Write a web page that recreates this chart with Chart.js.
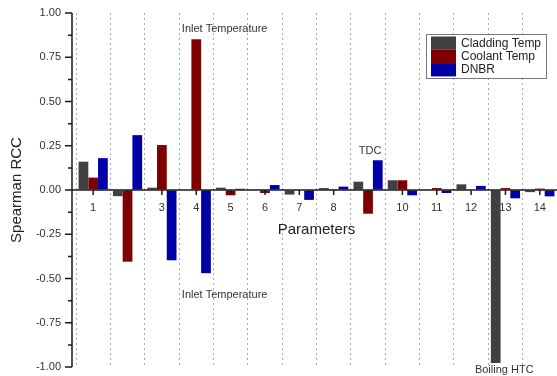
<!DOCTYPE html>
<html>
<head>
<meta charset="utf-8">
<script src="https://cdn.jsdelivr.net/npm/chart.js@4.4.1/dist/chart.umd.min.js"></script>
<style>
  html, body { margin: 0; padding: 0; background: #fff; }
  #wrap { width: 557px; height: 376px; }
</style>
</head>
<body>
<div id="wrap"><canvas id="grafico"></canvas></div>
<script>
const parametros = ["1", "2", "3", "4", "5", "6", "7", "8", "9", "10", "11", "12", "13", "14"];
const claddingTemp = [0.160, -0.035, 0.013, 0.003, 0.013, 0.002, -0.026, 0.011, 0.047, 0.055, 0.003, 0.032, -0.977, -0.012];
const coolantTemp = [0.070, -0.405, 0.254, 0.851, -0.030, -0.017, -0.003, 0.002, -0.134, 0.055, 0.011, 0.003, 0.011, 0.008];
const dnbr = [0.180, 0.310, -0.397, -0.470, 0.007, 0.028, -0.056, 0.019, 0.168, -0.030, -0.017, 0.023, -0.047, -0.036];
const nomesSeries = ["Cladding Temp", "Coolant Temp", "DNBR"];
const coresSeries = ["#404040", "#800000", "#0000a8"];

// textos soltos no grafico (x em indice de categoria, y em valor)
const anotacoes = [
    { texto: "Inlet Temperature", x: 3 - 0.42, y: 0.91 },
    { texto: "Inlet Temperature", x: 3 - 0.42, y: -0.593 },
    { texto: "TDC", x: 8 - 0.27, y: 0.22 },
    { texto: "Boiling HTC", x: 12 - 0.89, y: -1.017 }
];

const fonte = "'Liberation Sans', Arial, sans-serif";

// eixos desenhados a mao (linha do eixo y fica 4px a esquerda da area)
const eixosPlugin = {
    id: "eixos",
    afterDatasetsDraw(chart) {
        const ctx = chart.ctx;
        const area = chart.chartArea;
        const xs = chart.scales.x;
        const ys = chart.scales.y;
        const x0 = area.left - 4;
        const y0 = ys.getPixelForValue(0);
        ctx.save();
        ctx.strokeStyle = "#1a1a1a";
        ctx.lineWidth = 1.5;
        ctx.beginPath();
        ctx.moveTo(x0, area.top);
        ctx.lineTo(x0, area.bottom);
        ctx.moveTo(x0, y0);
        ctx.lineTo(area.right, y0);
        ys.ticks.forEach(function(t, i) {
            const py = ys.getPixelForValue(t.value);
            ctx.moveTo(x0 - 7, py);
            ctx.lineTo(x0, py);
            if (i < ys.ticks.length - 1) {
                const pm = ys.getPixelForValue((t.value + ys.ticks[i + 1].value) / 2);
                ctx.moveTo(x0 - 4, pm);
                ctx.lineTo(x0, pm);
            }
        });
        parametros.forEach(function(p, i) {
            const px = xs.getPixelForValue(i);
            ctx.moveTo(px, y0);
            ctx.lineTo(px, y0 + 5);
        });
        ctx.stroke();
        ctx.restore();
    }
};

const textosPlugin = {
    id: "textos",
    afterDraw(chart) {
        const ctx = chart.ctx;
        const xs = chart.scales.x;
        const ys = chart.scales.y;
        ctx.save();
        ctx.font = "11px " + fonte;
        ctx.fillStyle = "#333";
        ctx.textAlign = "left";
        ctx.textBaseline = "middle";
        anotacoes.forEach(function(a) {
            ctx.fillText(a.texto, xs.getPixelForValue(a.x), ys.getPixelForValue(a.y));
        });
        ctx.restore();
    }
};

const legendaPlugin = {
    id: "legendaCaixa",
    afterDraw(chart) {
        const ctx = chart.ctx;
        const area = chart.chartArea;
        const bx = area.right - 131;
        const by = area.top + 21;
        const bw = 120;
        const bh = 44;
        ctx.save();
        ctx.fillStyle = "#fff";
        ctx.fillRect(bx, by, bw, bh);
        ctx.strokeStyle = "#777";
        ctx.lineWidth = 1;
        ctx.strokeRect(bx + 0.5, by + 0.5, bw, bh);
        ctx.font = "12px " + fonte;
        ctx.textAlign = "left";
        ctx.textBaseline = "middle";
        chart.data.datasets.forEach(function(ds, i) {
            const ry = by + 2.5 + i * 13.3;
            ctx.fillStyle = ds.backgroundColor;
            ctx.fillRect(bx + 5, ry, 25, 13.3);
            ctx.fillStyle = "#222";
            ctx.fillText(ds.label, bx + 35, ry + 7);
        });
        ctx.restore();
    }
};

const ctx = document.getElementById("grafico").getContext("2d");
new Chart(ctx, {
    type: "bar",
    data: {
        labels: parametros,
        datasets: [
            { label: nomesSeries[0], data: claddingTemp, backgroundColor: coresSeries[0] },
            { label: nomesSeries[1], data: coolantTemp, backgroundColor: coresSeries[1] },
            { label: nomesSeries[2], data: dnbr, backgroundColor: coresSeries[2] }
        ]
    },
    options: {
        responsive: true,
        maintainAspectRatio: false,
        animation: false,
        layout: { padding: { top: 13, bottom: 9, left: 0, right: 0 } },
        datasets: { bar: { categoryPercentage: 0.85, barPercentage: 1.0 } },
        plugins: {
            legend: { display: false },
            tooltip: { enabled: false }
        },
        scales: {
            x: {
                position: { y: 0 },
                z: 1,
                border: { display: false, dash: [2, 3] },
                grid: {
                    offset: true,
                    color: "#a8a8a8",
                    lineWidth: 1,
                    drawTicks: false
                },
                ticks: {
                    padding: 11,
                    autoSkip: false,
                    maxRotation: 0,
                    color: "#333",
                    font: { family: fonte, size: 11 }
                },
                title: {
                    display: true,
                    text: "Parameters",
                    color: "#222",
                    padding: { top: -4, bottom: 0 },
                    font: { family: fonte, size: 15 }
                }
            },
            y: {
                min: -1,
                max: 1,
                border: { display: false },
                // marcas invisiveis so para afastar os rotulos da area
                grid: { drawOnChartArea: false, drawTicks: true, tickLength: 15, tickColor: "rgba(0,0,0,0)" },
                ticks: {
                    stepSize: 0.25,
                    padding: 0,
                    color: "#333",
                    font: { family: fonte, size: 11 },
                    callback: function(v) { return v.toFixed(2); }
                },
                title: {
                    display: true,
                    text: "Spearman RCC",
                    color: "#222",
                    padding: { top: 8, bottom: 0 },
                    font: { family: fonte, size: 15 }
                },
                afterFit: function(scale) { scale.width = 76; }
            }
        }
    },
    plugins: [eixosPlugin, textosPlugin, legendaPlugin]
});
</script>
</body>
</html>
